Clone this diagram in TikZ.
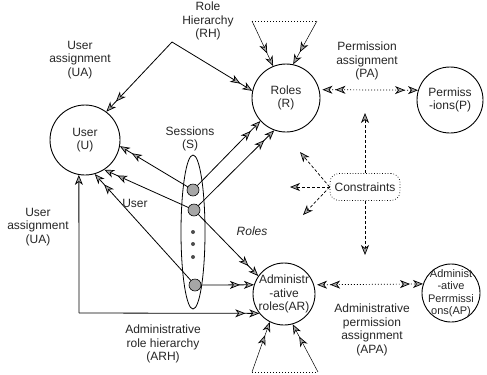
\documentclass[tikz,border=0pt]{standalone}
\usepackage{fontspec}
\setmainfont{Liberation Sans}
\usetikzlibrary{arrows.meta,shapes.geometric}

\tikzset{
  every node/.style={font=\fontsize{12bp}{13.5bp}\selectfont, align=center, inner sep=0pt, text=black!85},
  ent/.style={circle, draw, line width=0.9bp},
  dot/.style={circle, draw, line width=0.6bp, fill=gray!70, minimum size=12bp},
  sdot/.style={circle, fill=black!70, minimum size=4bp},
  conn/.style={line width=0.8bp},
  thinconn/.style={line width=0.5bp},
  dbl/.style={-{Stealth[length=10bp,width=8bp,inset=3bp,fill=gray!70,line width=0.7bp,sep=4bp]Stealth[length=10bp,width=8bp,inset=3bp,fill=gray!70,line width=0.7bp]}},
  one/.style={-{Stealth[length=10bp,width=8bp,inset=3bp,fill=gray!70,line width=0.7bp]}},
  both/.style={{Stealth[length=10bp,width=8bp,inset=3bp,fill=gray!70,line width=0.7bp,sep=3bp]Stealth[length=10bp,width=8bp,inset=3bp,fill=gray!70,line width=0.7bp,sep=3bp]}-{Stealth[length=10bp,width=8bp,inset=3bp,fill=gray!70,line width=0.7bp,sep=3bp]Stealth[length=10bp,width=8bp,inset=3bp,fill=gray!70,line width=0.7bp]}},
  dotline/.style={line width=0.7bp, dash pattern=on 1bp off 2bp},
  dashline/.style={line width=0.7bp, dash pattern=on 3bp off 2bp},
}

\begin{document}
\begin{tikzpicture}[x=1bp,y=-1bp]
\useasboundingbox (0,0) rectangle (487,374);

% entity circles
\node[ent, minimum size=70bp] (U) at (85,140) {};
\node[ent, minimum size=68bp] (R) at (286,98) {};
\node[ent, minimum size=66bp] (P) at (450,100) {};
\node[ent, minimum size=62bp] (AR) at (284,294) {};
\node[ent, minimum size=58bp] (AP) at (451,293) {};

\node (Ut) at (U) {User\\(U)};
\node (Rt) at (R) {Roles\\(R)};
\node (Pt) at (P) {Permiss\\-ions(P)};
\node (ARt) at (AR) {Administr\\-ative\\roles(AR)};
\node[font=\fontsize{11bp}{12.5bp}\selectfont] (APt) at (451,293) {Administ\\-ative\\Perrmissi\\ons(AP)};

% constraints box
\node[draw, dotted, line width=0.7bp, rounded corners=9bp, minimum width=70bp, minimum height=27bp] (C) at (365,187) {Constraints};

% sessions
\node[ellipse, draw, line width=0.8bp, minimum width=24bp, minimum height=154bp] (S) at (193,232) {};
\node[dot] (d1) at (193,190) {};
\node[dot] (d2) at (194,210) {};
\node[dot] (d3) at (195,285) {};
\node[sdot] (s1) at (193,232) {};
\node[sdot] (s2) at (193,244) {};
\node[sdot] (s3) at (193,257) {};

% role hierarchy
\coordinate (rh) at (172,42);
\draw[conn, dbl] (rh) -- (U.53);
\draw[conn, dbl] (rh) -- (R.168);

% self hierarchy on roles
\coordinate (t1) at (252,21);
\coordinate (t2) at (317,21);
\draw[dotline] (t1) -- (t2);
\draw[thinconn, dbl] (t1) -- (R.112);
\draw[thinconn, dbl] (t2) -- (R.78);

% self hierarchy on administrative roles
\coordinate (b1) at (252,372);
\coordinate (b2) at (318,372);
\draw[dotline] (b1) -- (b2);
\draw[thinconn, dbl] (b1) -- (AR.243);
\draw[thinconn, dbl] (b2) -- (AR.286);

% sessions to users and roles
\draw[conn, dbl] (d1) -- (U.-10);
\draw[conn, dbl] (d1) -- (R.222);
\draw[conn, dbl] (d2) -- (U.-57);
\draw[conn, dbl] (d2) -- (R.250);
\draw[conn, dbl] (d2) -- (AR.145);
\draw[conn, dbl] (d3) -- (U.-74);
\draw[conn, dbl] (d3) -- (AR.163);

% administrative role hierarchy / user assignment
\coordinate (arh) at (79,313);
\draw[conn, one] (arh) -- (U.-100);
\draw[conn, dbl] (arh) -- (AR.218);

% permission assignments
\draw[dotline, both] (R.14) -- (P.163);
\draw[dotline, both] (AR.17) -- (AP.162);

% constraints
\coordinate (c1) at (365,113);
\coordinate (c2) at (365,255);
\coordinate (c3) at (290,187);
\coordinate (c4) at (300,152);
\coordinate (c5) at (303,215);
\draw[dashline, one] (C.north) -- (c1);
\draw[dashline, one] (C.south) -- (c2);
\draw[dashline, one] (C.west) -- (c3);
\draw[dashline, one] (C.west) -- (c4);
\draw[dashline, one] (C.west) -- (c5);

% labels
\node (rhT) at (208,21) {Role\\Hierarchy\\(RH)};
\node (uaT) at (80,60) {User\\assignment\\(UA)};
\node (paT) at (367,61) {Permission\\assignment\\(PA)};
\node (sT) at (190,139) {Sessions\\(S)};
\node (uT) at (135,203) {User};
\node (rT) at (252,231) {\itshape Roles};
\node (ua2T) at (38,227) {User\\assignment\\(UA)};
\node (arhT) at (163,344) {Administrative\\role hierarchy\\(ARH)};
\node (apaT) at (372,330) {Administrative\\permission\\assignment\\(APA)};
\end{tikzpicture}
\end{document}
